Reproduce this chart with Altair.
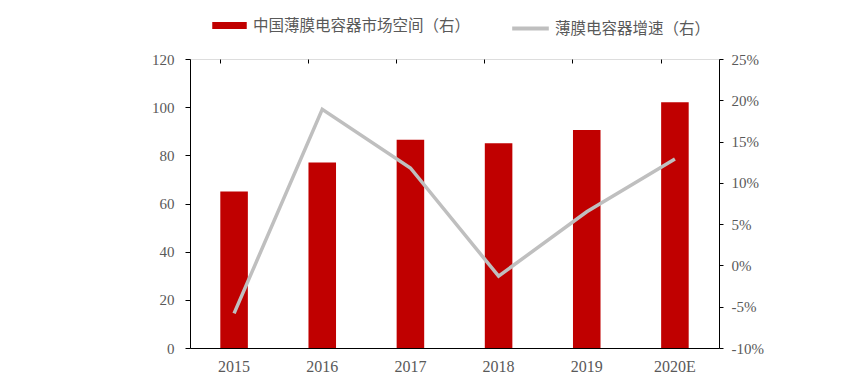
import altair as alt
import pandas as pd

years = ["2015", "2016", "2017", "2018", "2019", "2020E"]
market = [65, 77, 86.5, 85, 90.5, 102]
growth = [-0.058, 0.189, 0.118, -0.013, 0.065, 0.129]
bar_name = "中国薄膜电容器市场空间（右）"
line_name = "薄膜电容器增速（右）"
left_ticks = [0, 20, 40, 60, 80, 100, 120]
right_ticks = [-0.10, -0.05, 0.0, 0.05, 0.10, 0.15, 0.20, 0.25]

df = pd.DataFrame({"year": years, "market": market, "growth": growth,
                   "bar": bar_name, "line": line_name})

SERIF = "Liberation Serif"
CJK = "Noto Sans CJK SC"
TXT = "#595959"
RED = "#C00000"
GRAY = "#BFBFBF"

xscale = alt.Scale(domain=years, paddingInner=0.6875, paddingOuter=0.34375)

base = alt.Chart(df)

bars = base.mark_bar(color=RED).encode(
    x=alt.X("year:N", sort=years, scale=xscale, title=None,
            axis=alt.Axis(labelAngle=0, domain=True, domainColor="#000000",
                          domainWidth=1, ticks=False, labelFont=SERIF,
                          labelFontSize=16, labelColor=TXT, labelPadding=10,
                          grid=False)),
    y=alt.Y("market:Q", title=None,
            scale=alt.Scale(domain=[0, 120], nice=False),
            axis=alt.Axis(values=left_ticks, orient="left", domainColor="#000000",
                          tickColor="#000000", tickSize=5, labelPadding=11,
                          labelFont=SERIF, labelFontSize=15, labelColor=TXT,
                          grid=False)),
    color=alt.Color("bar:N", title=None,
                    scale=alt.Scale(domain=[bar_name], range=[RED]),
                    legend=alt.Legend(orient="none", legendX=22, legendY=-51,
                                      symbolType="M-1,-0.2H1V0.2H-1Z",
                                      symbolSize=1190, symbolStrokeWidth=0,
                                      labelFont=CJK, labelFontSize=15.5,
                                      labelColor=TXT, labelOffset=6,
                                      labelLimit=500)),
)

line = base.mark_line(strokeWidth=3.5).encode(
    x=alt.X("year:N", sort=years, scale=xscale, title=None,
            axis=alt.Axis(domain=False, labels=False, ticks=True, tickSize=4,
                          tickColor="#000000", bandPosition=0, offset=-4,
                          grid=False)),
    y=alt.Y("growth:Q", title=None,
            scale=alt.Scale(domain=[-0.10, 0.25], nice=False),
            axis=alt.Axis(values=right_ticks, orient="right",
                          labelExpr="replace(format(datum.value, '.0%'), '\u2212', '-')",
                          domainColor="#000000", tickColor="#000000",
                          tickSize=4, labelPadding=8, labelFont=SERIF,
                          labelFontSize=15, labelColor=TXT, grid=False)),
    stroke=alt.Stroke("line:N", title=None,
                      scale=alt.Scale(domain=[line_name], range=[GRAY]),
                      legend=alt.Legend(orient="none", legendX=320, legendY=-51,
                                        symbolType="stroke", symbolSize=1340,
                                        symbolStrokeWidth=4,
                                        labelFont=CJK, labelFontSize=15.5,
                                        labelColor=TXT, labelOffset=4,
                                        labelLimit=500)),
)

chart = alt.layer(bars, line).resolve_scale(
    y="independent"
).resolve_axis(
    x="independent"
).properties(
    width=529, height=289,
    autosize=alt.AutoSizeParams(type="none"),
    padding={"left": 182, "top": 51, "right": 125, "bottom": 26},
).configure_view(stroke=None).configure(background="white")

chart.save("out.html", embed_options={"renderer": "svg", "actions": False})
